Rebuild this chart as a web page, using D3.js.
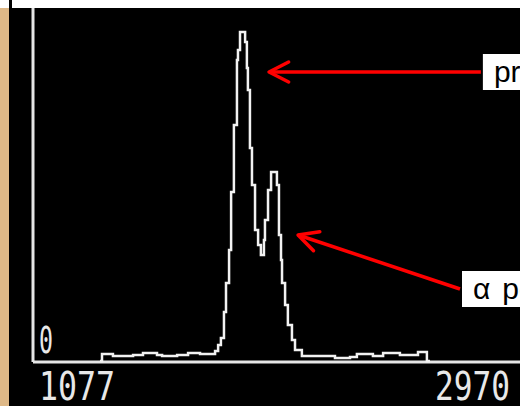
<!DOCTYPE html>
<html>
<head>
    <meta charset="utf-8">
    <title>Spectrum</title>
    <script src="https://d3js.org/d3.v7.min.js"></script>
    <style>
        body { margin: 0; background: #000; }
        svg { display: block; }
    </style>
</head>
<body>
    <script>
    // channel (bin start) and counts
    var channels = [1340, 1348, 1391, 1470, 1509, 1564, 1584, 1643, 1686, 1733,
        1792, 1804, 1815, 1827, 1835, 1847, 1855, 1866, 1878, 1882,
        1890, 1910, 1917, 1921, 1929, 1937, 1949, 1961, 1972, 1984,
        1988, 2000, 2012, 2035, 2043, 2051, 2055, 2067, 2078, 2094,
        2106, 2133, 2196, 2263, 2322, 2349, 2412, 2452, 2518, 2589,
        2624, 2636];
    var counts = [1, 8, 6, 7, 9, 7, 6, 7, 9, 8,
        11, 17, 24, 50, 79, 112, 170, 237, 302, 312,
        330, 320, 294, 272, 214, 177, 132, 117, 107, 122,
        142, 172, 190, 177, 127, 102, 79, 57, 37, 22,
        12, 6, 6, 4, 5, 8, 6, 9, 7, 10,
        1, 1];

    var axisLabels = ["1077", "2970"];
    var zeroLabel = "0";

    // arrows: tip and tail in data units, label text (split where the gap is wider)
    var noteText = [["proton peak"], ["\u03b1", "peak"]];
    var noteTip = [[2004, 290], [2118, 127]];
    var noteTail = [[2836, 290], [2754, 73]];

    var width = 520, height = 406;

    var svg = d3.select("body").append("svg")
        .attr("width", width)
        .attr("height", height);

    svg.append("rect").attr("width", width).attr("height", height).attr("fill", "#000");

    // frame bits of the screenshot
    svg.append("rect").attr("x", 0).attr("y", 8).attr("width", 9).attr("height", height - 8).attr("fill", "#deb887");
    svg.append("rect").attr("x", 0).attr("y", 0).attr("width", 9).attr("height", 8).attr("fill", "#fff");
    svg.append("rect").attr("x", 12).attr("y", 0).attr("width", width - 12).attr("height", 8).attr("fill", "#fff");

    var x = d3.scaleLinear().domain([1077, 2970]).range([33, 515]);
    var y = d3.scaleLinear().domain([0, 354]).range([362, 8]);

    // axes lines
    svg.append("line")
        .attr("x1", x(1077)).attr("x2", x(1077))
        .attr("y1", 8).attr("y2", y(0))
        .attr("stroke", "#e6e6e6").attr("stroke-width", 3);
    svg.append("line")
        .attr("x1", x(1077)).attr("x2", width)
        .attr("y1", y(0)).attr("y2", y(0))
        .attr("stroke", "#e6e6e6").attr("stroke-width", 3);

    var data = channels.map(function(c, i) { return { ch: c, n: counts[i] }; });

    var line = d3.line()
        .x(function(d) { return x(d.ch); })
        .y(function(d) { return y(d.n); })
        .curve(d3.curveStepAfter);

    svg.append("path")
        .datum(data)
        .attr("d", line)
        .attr("fill", "none")
        .attr("stroke", "#f2f2f2")
        .attr("stroke-width", 2.5);

    // pixel-ish labels (scaled up vertically)
    var mono = "'DejaVu Sans Mono', 'Liberation Mono', monospace";
    function monoLabel(t, px, py, fs, len) {
        svg.append("text")
            .attr("transform", "translate(" + px + "," + py + ") scale(1,1.3)")
            .attr("font-family", mono).attr("font-size", fs)
            .attr("textLength", len).attr("lengthAdjust", "spacingAndGlyphs")
            .attr("fill", "#e8e8e8")
            .text(t);
    }
    monoLabel(zeroLabel, 39, 353, 28, 14);
    monoLabel(axisLabels[0], 39, 400, 30, 76);
    monoLabel(axisLabels[1], 435, 400, 30, 75);

    // arrows with labels
    var wing = 22, spread = 27 * Math.PI / 180;
    noteText.forEach(function(parts, i) {
        var tx = x(noteTip[i][0]), ty = y(noteTip[i][1]);
        var ex = x(noteTail[i][0]), ey = y(noteTail[i][1]);
        var a = Math.atan2(ey - ty, ex - tx);
        var g = svg.append("g");
        g.append("line")
            .attr("x1", ex).attr("y1", ey).attr("x2", tx).attr("y2", ty)
            .attr("stroke", "#ff0000").attr("stroke-width", 3.5);
        g.append("path")
            .attr("d", "M" + (tx + wing * Math.cos(a - spread)) + "," + (ty + wing * Math.sin(a - spread)) +
                " L" + tx + "," + ty +
                " L" + (tx + wing * Math.cos(a + spread)) + "," + (ty + wing * Math.sin(a + spread)))
            .attr("fill", "none")
            .attr("stroke", "#ff0000").attr("stroke-width", 3.5)
            .attr("stroke-linecap", "round").attr("stroke-linejoin", "round");
        g.append("rect")
            .attr("x", ex + 2).attr("y", ey - 18)
            .attr("width", width).attr("height", 36)
            .attr("fill", "#fff");
        var txt = g.append("text")
            .attr("x", ex + 13).attr("y", ey + 10)
            .attr("font-family", "'Liberation Sans', Arial, sans-serif")
            .attr("font-size", 30)
            .attr("fill", "#000");
        parts.forEach(function(p, j) {
            txt.append("tspan").attr("dx", j ? 12 : 0).text(p);
        });
    });
    </script>
</body>
</html>
